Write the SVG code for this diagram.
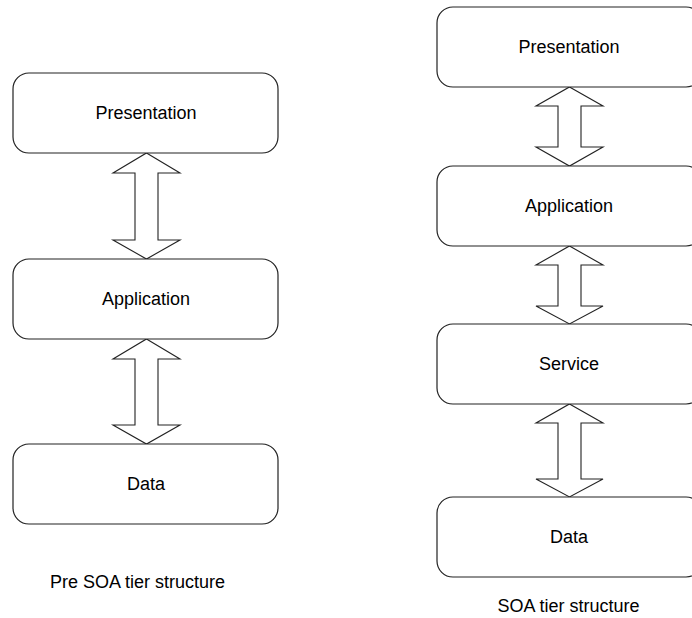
<svg xmlns="http://www.w3.org/2000/svg" width="692" height="618" viewBox="0 0 692 618">
<style>
.box{fill:#fff;stroke:#222;stroke-width:1.2}
.arr{fill:#fff;stroke:#222;stroke-width:1.1;stroke-linejoin:miter}
text{font-family:"Liberation Sans",Arial,sans-serif;font-size:18px;fill:#000;text-anchor:middle}
</style>
<rect width="692" height="618" fill="#fff"/>
<g id="connectors">
<path class="arr" d="M146.5,153 L180,173 L158,173 L158,240 L180,240 L146.5,259 L113,240 L135,240 L135,173 L113,173 Z"/>
<path class="arr" d="M146.5,339 L180,359 L158,359 L158,425 L180,425 L146.5,444 L113,425 L135,425 L135,359 L113,359 Z"/>
<path class="arr" d="M569.5,87 L603,106 L581,106 L581,147 L603,147 L569.5,166 L536,147 L558,147 L558,106 L536,106 Z"/>
<path class="arr" d="M569.5,246 L603,265 L581,265 L581,306 L603,306 L569.5,324 L536,306 L558,306 L558,265 L536,265 Z"/>
<path class="arr" d="M569.5,404 L603,423 L581,423 L581,479 L603,479 L569.5,497 L536,479 L558,479 L558,423 L536,423 Z"/>
</g>
<g id="pre-presentation"><rect class="box" x="13" y="73" width="265" height="80" rx="16"/><text x="146" y="119">Presentation</text></g>
<g id="pre-application"><rect class="box" x="13" y="259" width="265" height="80" rx="16"/><text x="146" y="305">Application</text></g>
<g id="pre-data"><rect class="box" x="13" y="444" width="265" height="80" rx="16"/><text x="146" y="490">Data</text></g>
<g id="soa-presentation"><rect class="box" x="437" y="7" width="265" height="80" rx="16"/><text x="569" y="53">Presentation</text></g>
<g id="soa-application"><rect class="box" x="437" y="166" width="265" height="80" rx="16"/><text x="569" y="212">Application</text></g>
<g id="soa-service"><rect class="box" x="437" y="324" width="265" height="80" rx="16"/><text x="569" y="370">Service</text></g>
<g id="soa-data"><rect class="box" x="437" y="497" width="265" height="80" rx="16"/><text x="569" y="543">Data</text></g>
<text x="137.5" y="588">Pre SOA tier structure</text>
<text x="568.5" y="612">SOA tier structure</text>
</svg>
